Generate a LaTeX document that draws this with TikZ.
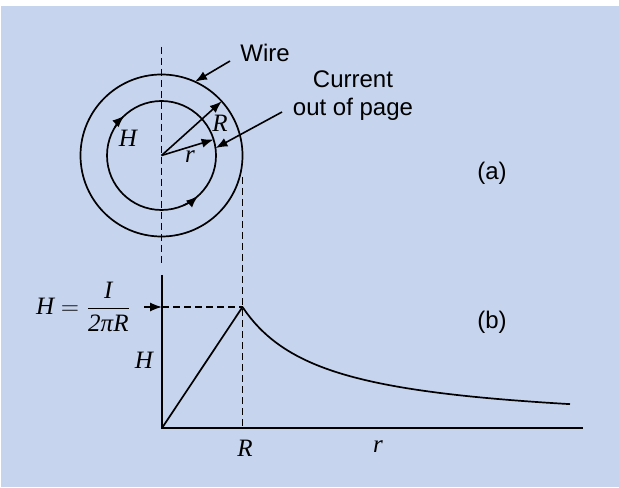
\documentclass[tikz,border=0pt]{standalone}
\usepackage{fontspec}
\usepackage{amsmath}
\setmainfont{Liberation Sans}
\newfontfamily\tms{Liberation Serif}
\usetikzlibrary{arrows.meta, positioning}
\definecolor{bgcolor}{RGB}{198,212,237}
\newcommand{\vi}[1]{\mbox{\tms\itshape #1}}

\begin{document}
\begin{tikzpicture}[x=0.5pt, y=0.5pt,
    curve/.style={line width=0.85pt},
    axis/.style={line width=1.15pt},
    guide/.style={line width=0.9pt, dash pattern=on 3.5pt off 2pt},
    arr/.style={-{Latex[length=6pt, width=4.6pt]}, line width=0.8pt},
    lbl/.style={font=\fontsize{12}{14}\selectfont, align=center},
    sym/.style={font=\fontsize{12.5}{14}\selectfont\tms\itshape}
]
    \useasboundingbox (0,0) rectangle (619,487);
    \fill[white]   (0,0) rectangle (619,487);
    \fill[bgcolor] (1,0) rectangle (619,481);

    % (a) cross-section of the wire
    \coordinate (c)    at (161.5,331.5);
    \coordinate (ctop) at (161.5,440);
    \coordinate (cbot) at (161.5,222);
    \draw[curve] (c) circle (81);
    \draw[curve] (c) circle (54.5);
    \draw[guide] (ctop) -- (cbot);

    \draw[arr] (c) ++(149:54.5) arc (149:133:54.5);
    \draw[arr] (c) ++(-66:54.5) arc (-66:-48:54.5);

    \path (c) ++(42:81)     coordinate (rout);
    \path (c) ++(17:54.5)   coordinate (rin);
    \path (c) ++(65.6:81)   coordinate (wiretip);
    \path (c) ++(7.8:54.5)  coordinate (curtip);
    \draw[arr] (c) -- (rout);
    \draw[arr] (c) -- (rin);

    \node[sym] (labR) at (220,364) {R};
    \node[sym] (labr) at (190,330) {r};
    \node[sym] (labH) at (128,349) {H};

    \node[lbl] (wire) at (265,434) {Wire};
    \coordinate (wirefrom) at (230,426);
    \draw[arr] (wirefrom) -- (wiretip);

    \node[lbl] (current) at (353,391) {Current\\out of page};
    \coordinate (curfrom) at (282,375);
    \draw[arr] (curfrom) -- (curtip);

    \node[lbl] (parta) at (492,314) {(a)};

    % (b) field strength against radius
    \coordinate (o)     at (162,59);
    \coordinate (ytop)  at (162,212);
    \coordinate (xend)  at (583,59);
    \coordinate (p)     at (242.5,180);
    \coordinate (rdash) at (242.5,310);
    \coordinate (rfoot) at (242.5,59);
    \coordinate (hfrom) at (144,180);
    \coordinate (hmark) at (162,180);

    \draw[guide] (rdash) -- (rfoot);
    \draw[guide, arr] (hfrom) -- (hmark);
    \draw[guide] (hmark) -- (p);
    \draw[axis] (ytop) -- (o) -- (xend);
    \draw[curve] (o) -- (p);
    \draw[curve] plot[domain=242.5:570, samples=80] (\x, {59+121*80.5/(\x-162)});

    \node[sym, anchor=east] (hval) at (138,180)
        {$\vi{H} = \dfrac{\vi{I}}{\mbox{\tms 2\itshape πR}}$};
    \node[sym] (haxis) at (144,127) {H};
    \node[sym] (labRb) at (245,39)  {R};
    \node[sym] (labrb) at (378,40)  {r};

    \node[lbl] (partb) at (492,165) {(b)};
\end{tikzpicture}
\end{document}
